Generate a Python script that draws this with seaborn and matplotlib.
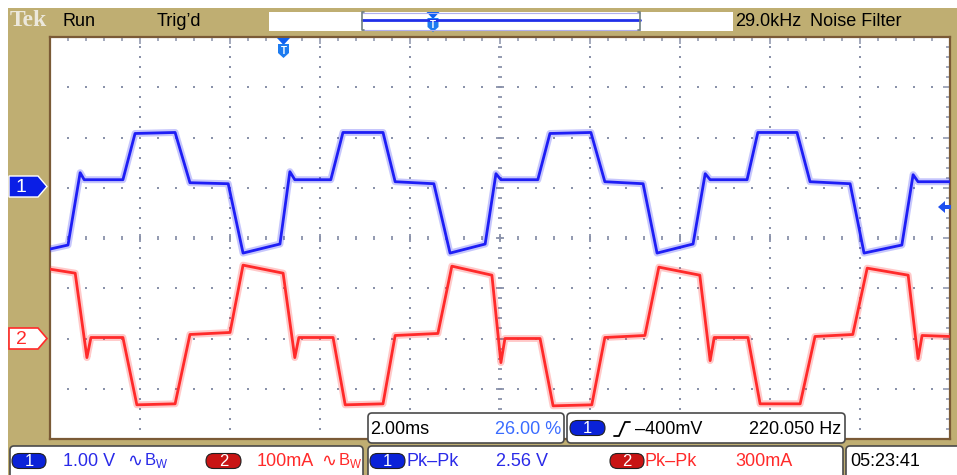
import numpy as np
import pandas as pd
import matplotlib
matplotlib.use("Agg")
import matplotlib.pyplot as plt
from matplotlib.patches import FancyBboxPatch, Polygon, Rectangle
import seaborn as sns

# ── Scope settings ────────────────────────────────────────────────────────────
MS_PER_DIV     = 2.0
CH1_V_PER_DIV  = 1.00
CH2_MA_PER_DIV = 100.0
CH1_POS        = 1.04     # ground marker, divisions above centre
CH2_POS        = -2.0
TRIG_LEVEL     = -0.40    # V

# ── Trace data (time from left edge, ms) ──────────────────────────────────────
ch1_t = [0.00, 0.40, 0.67, 0.76, 1.62, 1.89, 2.78, 3.11, 3.96, 4.29,
         5.11, 5.33, 5.44, 6.24, 6.51, 7.40, 7.67, 8.53, 8.89,
         9.67, 9.91, 10.02, 10.84, 11.11, 12.02, 12.33, 13.18, 13.49,
         14.29, 14.56, 14.67, 15.49, 15.73, 16.60, 16.89, 17.78, 18.09,
         18.93, 19.18, 19.29, 20.00]
ch1_v = [-1.26, -1.18, 0.26, 0.12, 0.12, 1.04, 1.06, 0.06, 0.04, -1.34,
         -1.16, 0.28, 0.12, 0.12, 1.06, 1.06, 0.08, 0.04, -1.34,
         -1.16, 0.24, 0.12, 0.12, 1.04, 1.06, 0.08, 0.04, -1.34,
         -1.16, 0.24, 0.12, 0.12, 1.06, 1.06, 0.08, 0.04, -1.34,
         -1.18, 0.22, 0.08, 0.08]

ch2_t = [0.00, 0.56, 0.82, 0.91, 1.62, 1.93, 2.78, 3.11, 4.00, 4.29,
         5.18, 5.44, 5.53, 6.29, 6.56, 7.40, 7.67, 8.62, 8.93,
         9.82, 10.02, 10.11, 10.89, 11.18, 12.04, 12.33, 13.22, 13.53,
         14.44, 14.67, 14.76, 15.51, 15.78, 16.67, 17.00, 17.84, 18.16,
         19.07, 19.29, 19.38, 20.00]
ch2_ma = [138, 130, -38, 2, 2, -132, -130, 8, 12, 146,
          130, -38, 2, 2, -132, -130, 6, 10, 144,
          126, -48, 0, 0, -134, -132, 2, 6, 142,
          126, -44, 2, 2, -130, -130, 4, 8, 140,
          126, -40, 6, 4]

# ── Readouts ──────────────────────────────────────────────────────────────────
top_status   = ["Run", "Trig\u2019d"]
top_right    = ["29.0kHz", "Noise Filter"]
ch_scale_txt = ["1.00 V", "100mA"]
meas_txt     = ["2.56 V", "300mA"]
timebase_txt = "2.00ms"
trig_pos_txt = "26.00 %"
trig_lvl_txt = "\u2013400mV"
freq_txt     = "220.050 Hz"
clock_txt    = "05:23:41"

# ── Colours ───────────────────────────────────────────────────────────────────
TAN     = "#bfae72"
BROWN   = "#7a5a36"
GRIDC   = "#8a92aa"
BLUE    = "#1e1ef5"
RED     = "#ff2a2a"
PILL_B  = "#0a22d8"
PILL_R  = "#c81414"
TXT_B   = "#2a2ae8"
TXT_LB  = "#3a6cff"

W, H = 957, 475

sns.set_theme(style="white")
plt.rcParams["font.family"] = ["Liberation Sans", "DejaVu Sans"]

fig = plt.figure(figsize=(W / 100, H / 100), dpi=100)
fig.patch.set_facecolor(TAN)

# ── Graticule ─────────────────────────────────────────────────────────────────
ax = fig.add_axes([50 / W, 1 - 439 / H, 900 / W, 402 / H])
ax.set_facecolor("white")
ax.set_xlim(0, 10 * MS_PER_DIV)
ax.set_ylim(-4, 4)

ax.set_xticks(np.arange(0, 20.01, MS_PER_DIV))
ax.set_xticks(np.arange(0, 20.01, MS_PER_DIV / 5), minor=True)
ax.set_yticks(np.arange(-4, 4.01, 1))
ax.set_yticks(np.arange(-4, 4.01, 0.2), minor=True)
ax.tick_params(which="both", direction="in", top=True, right=True,
               labelbottom=False, labelleft=False, color=GRIDC, width=1.1)
ax.tick_params(which="major", length=5)
ax.tick_params(which="minor", length=3)
for s in ax.spines.values():
    s.set_color(BROWN); s.set_linewidth(1.6)

# dotted grid
gx = np.arange(0.4, 19.99, 0.4)
for yy in [-3, -2, -1, 1, 2, 3]:
    ax.scatter(gx, np.full_like(gx, yy), s=2.2, marker="s", color=GRIDC, lw=0, zorder=1)
gy = np.arange(-3.8, 3.81, 0.2)
for xx in [2, 4, 6, 8, 12, 14, 16, 18]:
    ax.scatter(np.full_like(gy, xx), gy, s=2.2, marker="s", color=GRIDC, lw=0, zorder=1)
# centre rulers
ax.plot(gx, np.zeros_like(gx), ls="none", marker="|", ms=3, mew=1.3, color=GRIDC, zorder=1)
ax.plot(np.arange(2, 19, 2), np.zeros(9), ls="none", marker="|", ms=6, mew=1.3, color=GRIDC, zorder=1)
ax.plot(np.full_like(gy, 10), gy, ls="none", marker="_", ms=3.5, mew=1.3, color=GRIDC, zorder=1)
ax.plot(np.full(7, 10), np.arange(-3, 4, 1), ls="none", marker="_", ms=6, mew=1.3, color=GRIDC, zorder=1)

# ── Traces (wide faint pass imitates the noise band) ──────────────────────────
df1 = pd.DataFrame({"t": ch1_t, "div": np.array(ch1_v) / CH1_V_PER_DIV + CH1_POS})
df2 = pd.DataFrame({"t": ch2_t, "div": np.array(ch2_ma) / CH2_MA_PER_DIV + CH2_POS})
for df, col, z in [(df2, RED, 3), (df1, BLUE, 4)]:
    sns.lineplot(data=df, x="t", y="div", color=col, lw=5.0, alpha=0.25,
                 estimator=None, sort=False, ax=ax, zorder=z)
    sns.lineplot(data=df, x="t", y="div", color=col, lw=2.0,
                 estimator=None, sort=False, ax=ax, zorder=z)
ax.set_xlabel(""); ax.set_ylabel("")

# ── Overlay in screen pixels ──────────────────────────────────────────────────
ov = fig.add_axes([0, 0, 1, 1], zorder=10)
ov.set_xlim(0, W); ov.set_ylim(H, 0)
ov.axis("off")
ov.patch.set_alpha(0)

ov.add_patch(Rectangle((0, 0), W, 8, color="white", lw=0))
ov.add_patch(Rectangle((0, 0), 8, H, color="white", lw=0))


def box(x0, y0, x1, y1, r=4):
    ov.add_patch(FancyBboxPatch((x0, y0), x1 - x0, y1 - y0,
                                boxstyle=f"round,pad=0,rounding_size={r}",
                                fc="white", ec="#4a4a4a", lw=1.2))


def pill(x0, x1, yc, face, label, h=15):
    ov.add_patch(FancyBboxPatch((x0, yc - h / 2), x1 - x0, h,
                                boxstyle=f"round,pad=0,rounding_size={h / 2}",
                                fc=face, ec="#202020", lw=0.8))
    ov.text((x0 + x1) / 2, yc + 0.5, label, color="white", fontsize=12,
            ha="center", va="center")


def trig_marker(xc, ytop):
    ov.add_patch(Polygon([(xc - 6.5, ytop), (xc + 6.5, ytop), (xc, ytop + 7)],
                         fc="#1060f0", ec="none"))
    ov.add_patch(Polygon([(xc - 5.5, ytop + 6), (xc + 5.5, ytop + 6), (xc + 5.5, ytop + 15),
                          (xc, ytop + 20), (xc - 5.5, ytop + 15)], fc="#1e7cf0", ec="none"))
    ov.text(xc, ytop + 12.5, "T", color="white", fontsize=7, fontweight="bold",
            ha="center", va="center")


def bw_tag(x, col):
    # "∿" then B with a subscript W
    ov.text(x, 461, "\u223f", fontsize=13, color=col, va="center",
            family=["DejaVu Sans"])
    ov.text(x + 17, 461, "B$_{\\mathregular{W}}$", fontsize=12, color=col, va="center")


# top status bar
ov.text(10, 21, "Tek", family=["Liberation Serif", "DejaVu Serif"], fontsize=17,
        fontweight="bold", color="#ece8dc", va="center")
ov.text(63, 21, top_status[0], fontsize=13, color="black", va="center")
ov.text(157, 21, top_status[1], fontsize=13, color="black", va="center")
ov.add_patch(Rectangle((269, 12), 464, 19, fc="white", ec="none"))
ov.plot([362, 640], [12.5, 12.5], color="#b0b0f0", lw=0.8)
ov.plot([362, 640], [29.5, 29.5], color="#b0b0f0", lw=0.8)
ov.plot([362, 640], [20, 20], color="#2030e8", lw=2)
ov.plot([364, 362, 362, 364], [12, 12, 30, 30], color="#708080", lw=1.2)
ov.plot([638, 640, 640, 638], [12, 12, 30, 30], color="#708080", lw=1.2)
trig_marker(433, 12)
ov.text(735, 21, top_right[0], fontsize=13, color="black", va="center")
ov.text(810, 21, top_right[1], fontsize=13, color="black", va="center")

# trigger position marker and trigger level arrow on the graticule
trig_marker(283.5, 38)
ov.add_patch(Polygon([(938, 207), (945, 201), (945, 213)], fc="#1e50f0", ec="none"))
ov.add_patch(Rectangle((944, 205), 7, 4, fc="#1e50f0", ec="none"))

# channel ground markers
ov.add_patch(Polygon([(9, 176), (38, 176), (47, 186.5), (38, 197), (9, 197)],
                     fc="#0a1ee6", ec="white", lw=1))
ov.text(21, 187, "1", color="white", fontsize=14, ha="center", va="center")
ov.add_patch(Polygon([(9, 328), (38, 328), (47, 338.5), (38, 349), (9, 349)],
                     fc="white", ec=RED, lw=1.2))
ov.text(21, 339, "2", color=RED, fontsize=14, ha="center", va="center")

# upper readout boxes
box(368, 413, 564, 443)
ov.text(370, 429, timebase_txt, fontsize=13, color="black", va="center")
ov.text(561, 429, trig_pos_txt, fontsize=13, color=TXT_LB, va="center", ha="right")
box(567, 413, 845, 443)
pill(570, 605, 428, PILL_B, "1")
ov.plot([614, 619, 625, 630], [436, 436, 422, 422], color="black", lw=1.3)
ov.text(635, 429, trig_lvl_txt, fontsize=13, color="black", va="center")
ov.text(841, 429, freq_txt, fontsize=13, color="black", va="center", ha="right")

# bottom readout row
box(10, 446, 363, 482)
pill(12, 46, 461, PILL_B, "1")
ov.text(63, 461, ch_scale_txt[0], fontsize=13, color=TXT_B, va="center")
bw_tag(127, TXT_B)
pill(206, 241, 461, PILL_R, "2")
ov.text(257, 461, ch_scale_txt[1], fontsize=13, color=RED, va="center")
bw_tag(321, RED)

box(368, 446, 843, 482)
pill(370, 405, 461, PILL_B, "1")
ov.text(406, 461, "Pk\u2013Pk", fontsize=13, color=TXT_B, va="center")
ov.text(496, 461, meas_txt[0], fontsize=13, color=TXT_B, va="center")
pill(610, 644, 461, PILL_R, "2")
ov.text(645, 461, "Pk\u2013Pk", fontsize=13, color=RED, va="center")
ov.text(735, 461, meas_txt[1], fontsize=13, color=RED, va="center")

box(846, 446, 965, 482)
ov.text(850, 461, clock_txt, fontsize=13, color="black", va="center")

fig.savefig("out.png", dpi=100, facecolor=fig.get_facecolor())
